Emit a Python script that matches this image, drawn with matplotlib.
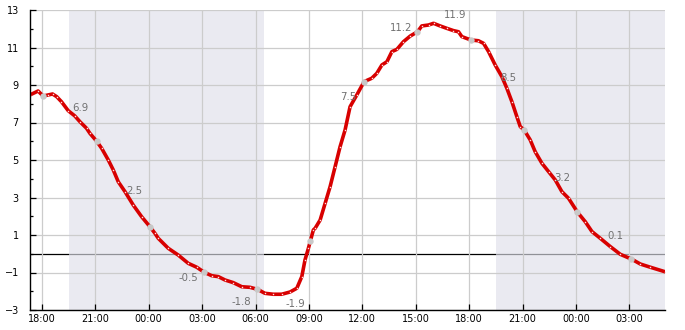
import matplotlib
matplotlib.use("Agg")
import matplotlib.pyplot as plt
from matplotlib.ticker import MultipleLocator

# hours since 18:00 on day 0
hours = [-0.67, -0.21, 0.07, 0.36, 0.6, 0.83, 1.1, 1.48, 1.85, 2.14, 2.51, 2.7, 3.07, 3.36,
         3.73, 4.01, 4.29, 4.67, 5.13, 5.6, 6.07, 6.35, 6.54, 7.1, 7.66, 8.22, 8.7, 9.12,
         9.54, 9.91, 10.29, 10.75, 11.23, 11.69, 12.12, 12.53, 13.0, 13.47, 13.94, 14.32,
         14.6, 14.78, 14.97, 15.08, 15.25, 15.35, 15.63, 15.91, 16.19, 16.47, 16.75, 17.03,
         17.31, 17.69, 18.1, 18.53, 18.81, 19.1, 19.38, 19.66, 19.94, 20.31, 20.69, 21.1,
         21.34, 21.72, 22.0, 22.37, 22.75, 23.12, 23.4, 23.59, 24.1, 24.52, 24.81, 25.09,
         25.46, 25.84, 26.12, 26.4, 26.68, 26.87, 27.09, 27.43, 27.71, 28.09, 28.46, 28.84,
         29.21, 29.58, 30.09, 30.52, 30.9, 31.37, 31.93, 32.49, 33.15, 33.62, 34.18, 35.0]
temps = [8.47, 8.68, 8.41, 8.47, 8.52, 8.38, 8.11, 7.63, 7.35, 7.04, 6.69, 6.42, 6.01, 5.62,
         5.0, 4.47, 3.84, 3.31, 2.6, 1.98, 1.44, 1.09, 0.82, 0.29, -0.07, -0.51, -0.72, -0.99,
         -1.17, -1.22, -1.4, -1.54, -1.76, -1.79, -1.9, -2.11, -2.16, -2.16, -2.04, -1.84,
         -1.22, -0.33, 0.29, 0.68, 1.27, 1.36, 1.8, 2.69, 3.58, 4.64, 5.71, 6.6,
         7.84, 8.47, 9.18, 9.36, 9.62, 10.07, 10.24, 10.78, 10.9, 11.31, 11.61, 11.84,
         12.15, 12.2, 12.29, 12.15, 12.02, 11.9, 11.84, 11.58, 11.4, 11.36, 11.22, 10.78,
         10.07, 9.44, 8.82, 8.11, 7.31, 6.78, 6.6, 6.07, 5.44, 4.82, 4.38, 3.93,
         3.31, 2.96, 2.21, 1.71, 1.18, 0.82, 0.38, -0.03, -0.3, -0.55, -0.72, -0.96]

marker_hours = [0.08, 3.08, 6.08, 9.08, 12.08, 15.08, 18.08, 21.08, 24.08, 27.08, 30.08, 33.08]
marker_temps = [8.4, 6.0, 1.42, -0.99, -1.9, 0.68, 9.18, 11.84, 11.4, 6.6, 2.21, -0.3]

label_texts = ["6.9", "2.5", "-0.5", "-1.8", "-1.9", "7.5", "11.2", "11.9", "8.5", "3.2", "0.1"]
label_hours = [2.19, 5.2, 8.24, 11.2, 14.23, 17.19, 20.19, 23.23, 26.2, 29.2, 32.2]
label_temps = [7.77, 3.35, -1.29, -2.57, -2.68, 8.36, 12.04, 12.73, 9.37, 4.04, 0.95]

night_starts = [1.5, 25.5]
night_ends = [12.5, 36.5]

tick_hours = [0, 3, 6, 9, 12, 15, 18, 21, 24, 27, 30, 33]
tick_labels = ["18:00", "21:00", "00:00", "03:00", "06:00", "09:00",
               "12:00", "15:00", "18:00", "21:00", "00:00", "03:00"]

fig = plt.figure(figsize=(6.85, 3.3), dpi=100)
ax = fig.add_axes([30 / 685, 1 - 310 / 330, 635 / 685, 300 / 330])

ax.axhline(0, color="black", lw=0.9, zorder=0.5)
for s, e in zip(night_starts, night_ends):
    ax.axvspan(s, e, facecolor=(223 / 255, 224 / 255, 234 / 255), alpha=0.65,
               lw=0, zorder=1)

ax.set_axisbelow(False)
ax.grid(True, which="major", color="#cccccc", lw=0.9, zorder=1.5)
for gl in ax.get_xgridlines() + ax.get_ygridlines():
    gl.set_zorder(1.5)

ax.plot(hours, temps, color="#d80000", lw=2.6, zorder=3, solid_capstyle="round")
ax.plot(hours, temps, ls="none", marker="s", ms=1.0, mfc="#ffdddd", mec="none", zorder=3.5)
ax.plot(marker_hours, marker_temps, ls="none", marker="o", ms=4.6, color="#c8c8c8",
        mec="none", zorder=4)

for t, xh, yv in zip(label_texts, label_hours, label_temps):
    ax.text(xh, yv, t, ha="center", va="center", fontsize=7.3, color="#707070", zorder=5)

ax.set_xlim(-2 / 3, 35)
ax.set_ylim(-3, 13)
ax.set_xticks(tick_hours)
ax.set_xticklabels(tick_labels)
ax.yaxis.set_major_locator(MultipleLocator(2))
ax.set_yticks(list(range(-3, 14, 2)))
ax.set_yticks(list(range(-2, 13, 2)), minor=True)

ax.tick_params(axis="both", which="major", direction="in", length=4, width=0.9,
               labelsize=7, colors="black")
ax.tick_params(axis="y", which="minor", direction="in", length=2.5, width=0.9)
ax.tick_params(axis="y", which="major", pad=8)
ax.tick_params(axis="x", which="major", pad=3)

for side in ("top", "right"):
    ax.spines[side].set_visible(False)
for side in ("left", "bottom"):
    ax.spines[side].set_linewidth(1.0)
    ax.spines[side].set_color("black")
    ax.spines[side].set_zorder(6)

fig.savefig("out.png", dpi=100)
